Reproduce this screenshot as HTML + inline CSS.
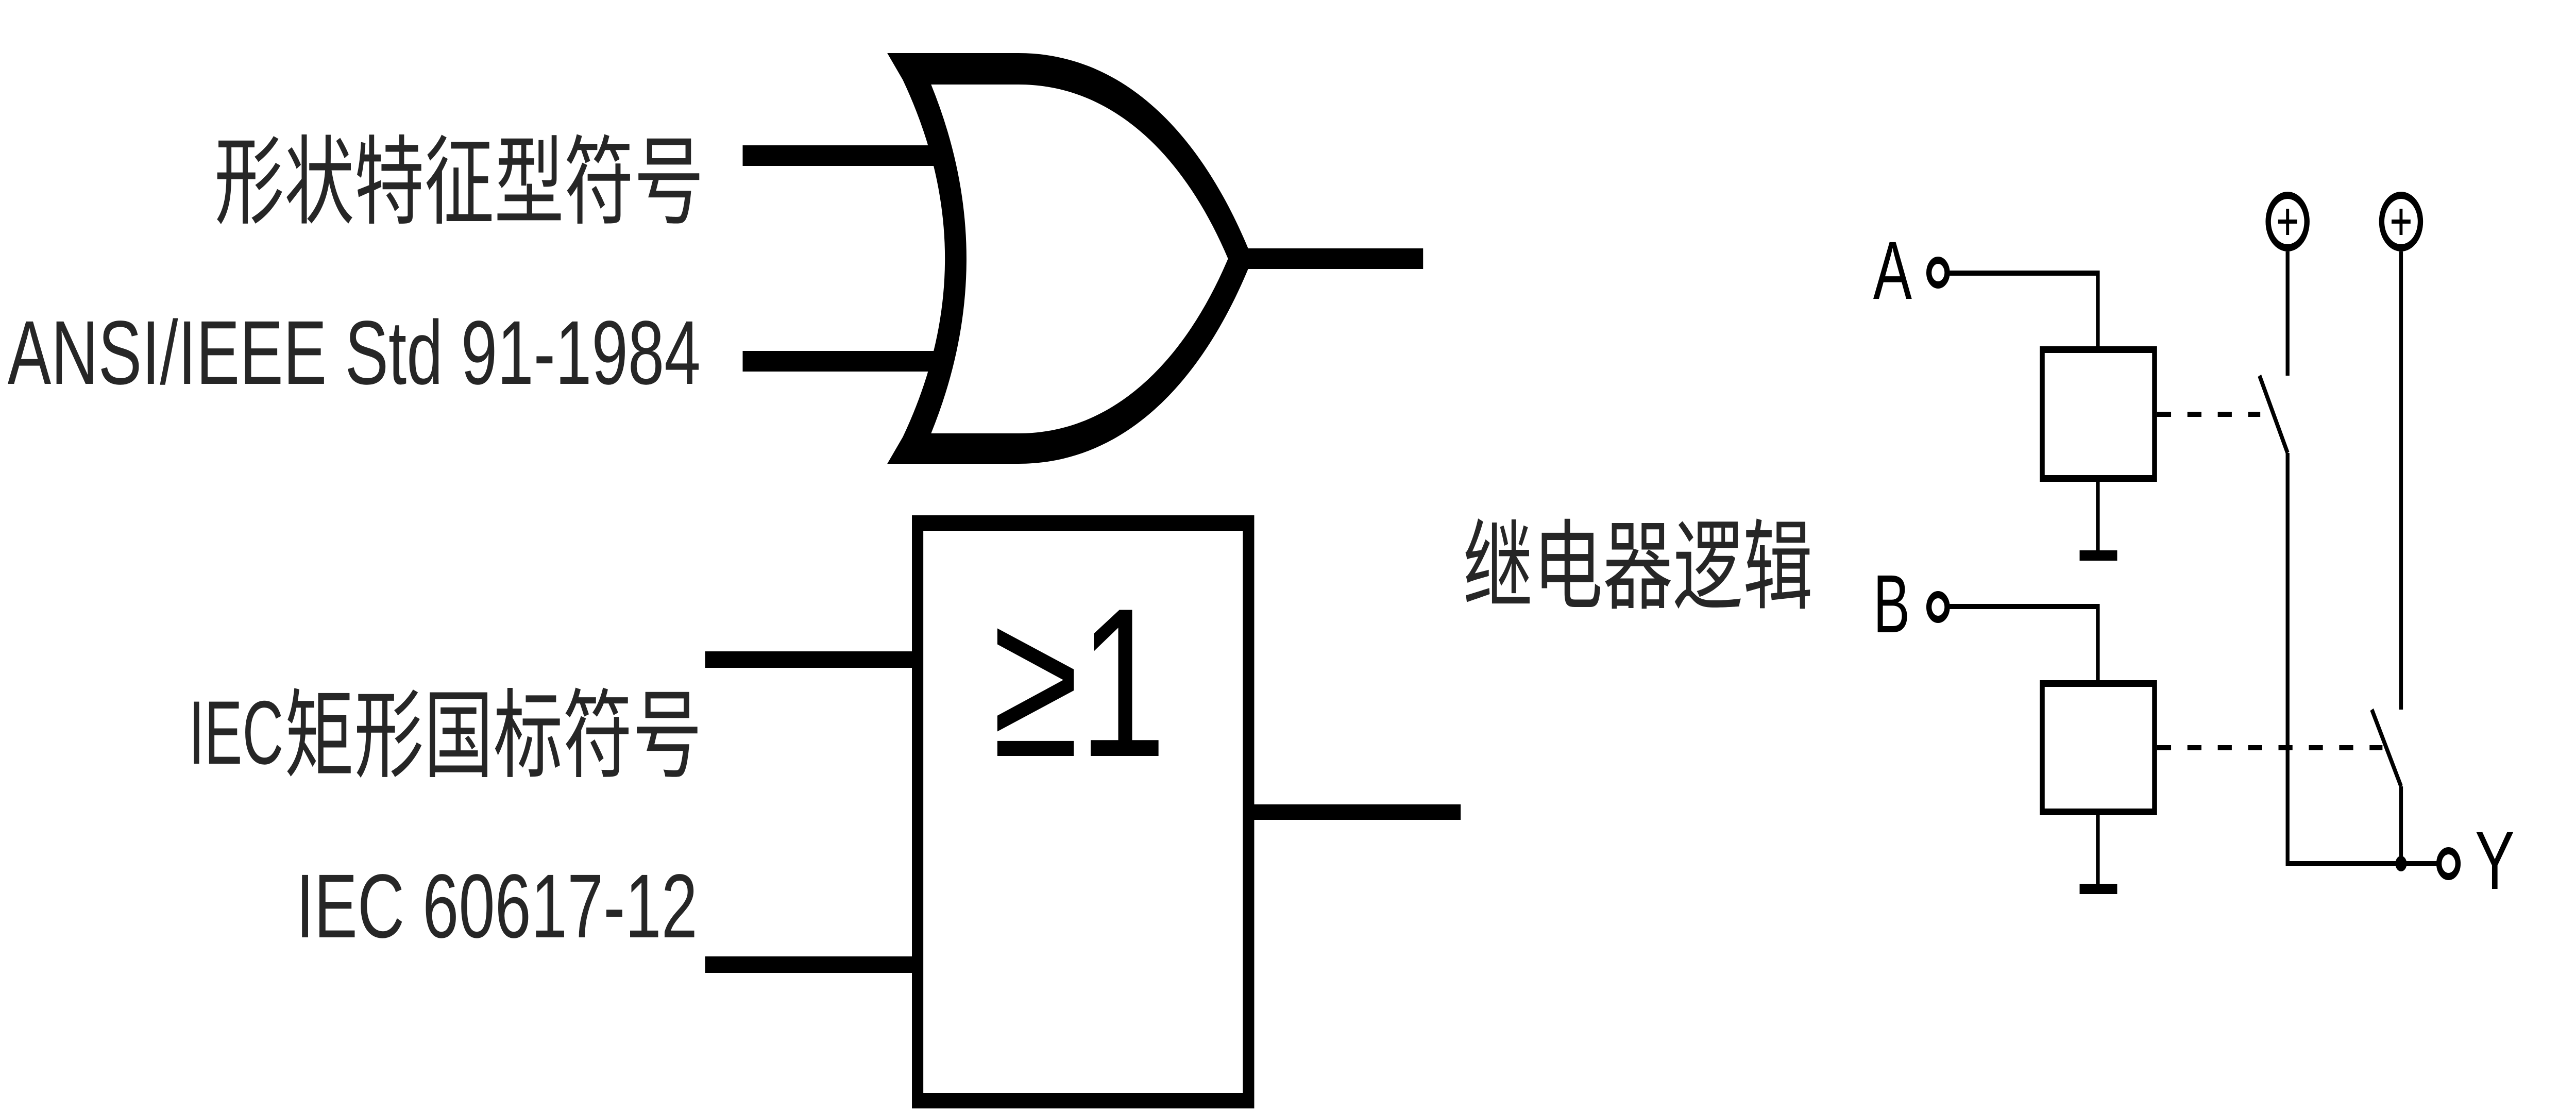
<!DOCTYPE html>
<html>
<head>
<meta charset="utf-8">
<style>
html,body{margin:0;padding:0;background:#fff;overflow:hidden;width:100%;height:100%;}
svg{display:block;width:100vw;height:100vh;}
.lbl{font-family:"Liberation Sans","Noto Sans CJK SC",sans-serif;fill:#262626;}
.cjk{font-family:"Liberation Sans","Noto Sans CJK SC",sans-serif;fill:#262626;}
.rl{font-family:"Liberation Sans",sans-serif;fill:#000;}
</style>
</head>
<body>
<svg viewBox="0 0 6788 2156" preserveAspectRatio="none" xmlns="http://www.w3.org/2000/svg">
<rect x="0" y="0" width="6788" height="2156" fill="#fff"/>

<!-- Left labels -->
<text class="cjk" x="565" y="419" font-size="188" textLength="1290" lengthAdjust="spacingAndGlyphs">形状特征型符号</text>
<text class="lbl" x="20" y="745" font-size="176" textLength="1826" lengthAdjust="spacingAndGlyphs">ANSI/IEEE Std 91-1984</text>
<text class="lbl" x="497" y="1482" font-size="175" textLength="250" lengthAdjust="spacingAndGlyphs">IEC</text>
<text class="cjk" x="750" y="1493" font-size="188" textLength="1100" lengthAdjust="spacingAndGlyphs">矩形国标符号</text>
<text class="lbl" x="780" y="1819" font-size="176" textLength="1058" lengthAdjust="spacingAndGlyphs">IEC 60617-12</text>

<!-- OR gate (distinctive shape) -->
<rect x="1957" y="282" width="528" height="40" fill="#000"/>
<rect x="1957" y="681" width="528" height="40" fill="#000"/>
<rect x="3270" y="482" width="480" height="40" fill="#000"/>
<path fill="#000" fill-rule="evenodd" d="
M2338,103 L2684,103 C2960,103 3170,260 3300,502 C3170,744 2960,900 2684,900 L2338,900 L2379,848 Q2601,502 2379,155 Z
M2453.5,164 L2684,164 C2930,164 3120,300 3236,502 C3120,704 2930,841 2684,841 L2453.5,841 Q2640,502 2453.5,164 Z"/>

<!-- Rectangular gate -->
<rect x="1858" y="1264" width="560" height="32" fill="#000"/>
<rect x="1858" y="1856" width="560" height="32" fill="#000"/>
<rect x="3290" y="1561" width="559" height="30" fill="#000"/>
<rect x="2418" y="1015" width="872" height="1121" fill="none" stroke="#000" stroke-width="30"/>
<text x="2615" y="1467" font-size="412" font-family="Liberation Sans, DejaVu Sans, sans-serif" fill="#000" textLength="458" lengthAdjust="spacingAndGlyphs">≥1</text>

<!-- Relay logic label -->
<text class="cjk" x="3855" y="1166" font-size="190" textLength="922" lengthAdjust="spacingAndGlyphs">继电器逻辑</text>

<!-- Relay circuit -->
<g stroke="#000" fill="none">
  <!-- terminal A -->
  <circle cx="5107" cy="529" r="24" stroke-width="14"/>
  <polyline points="5131,530 5528,530 5528,672" stroke-width="10"/>
  <rect x="5381.5" y="678.5" width="296" height="250" stroke-width="13"/>
  <line x1="5528" y1="935" x2="5528" y2="1070" stroke-width="10"/>
  <line x1="5684" y1="804" x2="5956" y2="804" stroke-width="10" stroke-dasharray="37 43"/>

  <!-- terminal B -->
  <circle cx="5107" cy="1178" r="24" stroke-width="14"/>
  <polyline points="5131,1177 5528,1177 5528,1320" stroke-width="10"/>
  <rect x="5381.5" y="1326.5" width="296" height="249" stroke-width="13"/>
  <line x1="5528" y1="1582" x2="5528" y2="1717" stroke-width="10"/>
  <line x1="5684" y1="1451" x2="6278" y2="1451" stroke-width="10" stroke-dasharray="37 43"/>

  <!-- plus sources -->
  <circle cx="6028" cy="430" r="51" stroke-width="14"/>
  <line x1="6003" y1="430" x2="6053" y2="430" stroke-width="8"/>
  <line x1="6028" y1="405" x2="6028" y2="456" stroke-width="8"/>
  <circle cx="6327" cy="430" r="51" stroke-width="14"/>
  <line x1="6302" y1="430" x2="6352" y2="430" stroke-width="8"/>
  <line x1="6327" y1="405" x2="6327" y2="456" stroke-width="8"/>

  <!-- switch A -->
  <line x1="6028" y1="488" x2="6028" y2="729" stroke-width="10"/>
  <line x1="5954" y1="729" x2="6028" y2="879" stroke-width="10"/>
  <polyline points="6028,879 6028,1676 6426,1676" stroke-width="10"/>

  <!-- switch B -->
  <line x1="6327" y1="488" x2="6327" y2="1377" stroke-width="10"/>
  <line x1="6250" y1="1377" x2="6327" y2="1526" stroke-width="10"/>
  <line x1="6327" y1="1526" x2="6327" y2="1676" stroke-width="10"/>

  <!-- output Y terminal -->
  <circle cx="6452" cy="1676" r="25" stroke-width="14"/>
</g>
<rect x="5480" y="1068" width="99" height="20" fill="#000"/>
<rect x="5480" y="1715" width="99" height="20" fill="#000"/>
<circle cx="6327" cy="1676" r="15" fill="#000"/>

<text class="rl" x="4936" y="580" font-size="160" textLength="102" lengthAdjust="spacingAndGlyphs">A</text>
<text class="rl" x="4936" y="1227" font-size="160" textLength="97" lengthAdjust="spacingAndGlyphs">B</text>
<text class="rl" x="6522" y="1725" font-size="160" textLength="104" lengthAdjust="spacingAndGlyphs">Y</text>
</svg>
</body>
</html>
